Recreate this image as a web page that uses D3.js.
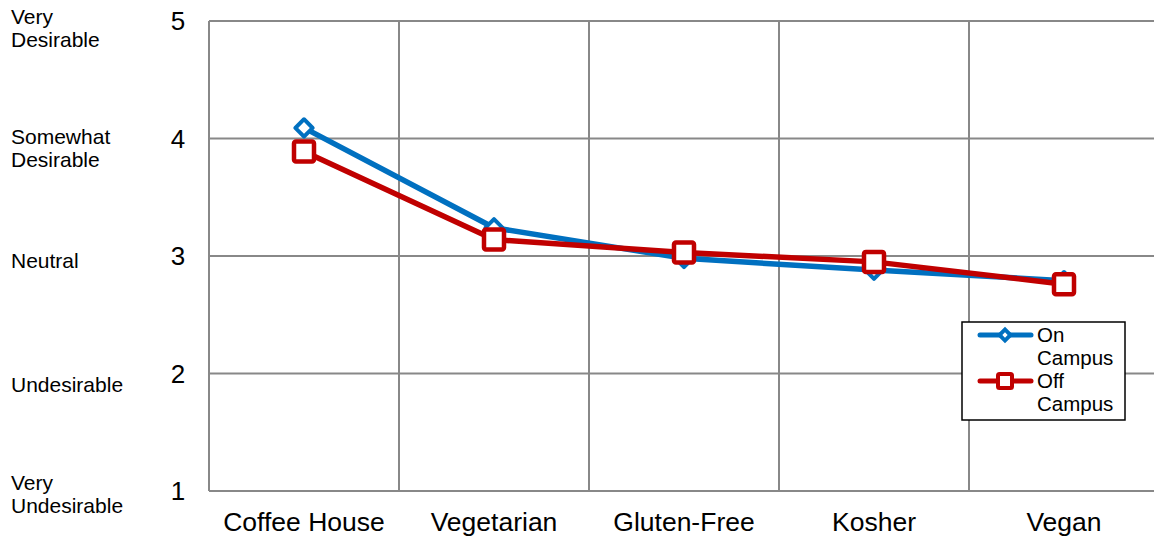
<!DOCTYPE html>
<html><head><meta charset="utf-8">
<script src="https://cdn.jsdelivr.net/npm/d3@7/dist/d3.min.js"></script>
<style>body{margin:0;background:#fff}svg{display:block}text{font-family:"Liberation Sans",Arial,sans-serif;fill:#000}</style>
</head><body><svg id="c" width="1154" height="539"></svg>
<script>
const categories = ["Coffee House","Vegetarian","Gluten-Free","Kosher","Vegan"];
const onCampus = [4.09,3.24,2.98,2.88,2.79];
const offCampus = [3.89,3.14,3.03,2.95,2.76];
const yTicks = [1,2,3,4,5];
const yLabels = [["Very","Undesirable"],["Undesirable"],["Neutral"],["Somewhat","Desirable"],["Very","Desirable"]];
const seriesNames = [["On","Campus"],["Off","Campus"]];

const svg = d3.select("#c");
const L=209, T=21, B=491, bw=190;
const x = d3.scaleBand().domain(categories).range([L, L+bw*categories.length]);
const y = d3.scaleLinear().domain([1,5]).range([B,T]);
const grid="#888888";

svg.append("g").selectAll("line").data(yTicks).join("line")
  .attr("x1",L).attr("x2",1154).attr("y1",d=>y(d)).attr("y2",d=>y(d))
  .attr("stroke",grid).attr("stroke-width",2);
svg.append("g").selectAll("line").data(categories).join("line")
  .attr("x1",d=>x(d)).attr("x2",d=>x(d)).attr("y1",T).attr("y2",B)
  .attr("stroke",grid).attr("stroke-width",2);

svg.append("g").selectAll("text").data(yTicks).join("text")
  .attr("x",178).attr("y",d=>y(d)+9).attr("text-anchor","middle")
  .style("font-size","26px").text(d=>d);
const lblOff = [3, 11, 5, 10, 7.5];
const yl = svg.append("g").selectAll("text").data(yTicks).join("text")
  .attr("x",11).style("font-size","21px")
  .attr("y",(d,i)=> y(d) + lblOff[i] + 7 - (yLabels[i].length-1)*11.5);
yl.each(function(d,i){
  const t=d3.select(this);
  yLabels[i].forEach((s,j)=>t.append("tspan").attr("x",11).attr("dy",j?23:0).text(s));
});
svg.append("g").selectAll("text").data(categories).join("text")
  .attr("x",d=>x(d)+bw/2).attr("y",531).attr("text-anchor","middle")
  .style("font-size","26.5px").text(d=>d);

const line = d3.line().x((d,i)=>x(categories[i])+bw/2).y(d=>y(d));
const blue="#0070C0", red="#C00000";
svg.append("path").datum(onCampus).attr("d",line).attr("fill","none").attr("stroke",blue).attr("stroke-width",5.5).attr("stroke-linejoin","round");
svg.append("path").datum(offCampus).attr("d",line).attr("fill","none").attr("stroke",red).attr("stroke-width",5.5).attr("stroke-linejoin","round");

const diamond = d3.symbol().type(d3.symbolSquare).size(150);
svg.append("g").selectAll("path").data(onCampus).join("path")
  .attr("d",diamond()).attr("transform",(d,i)=>`translate(${x(categories[i])+bw/2},${y(d)}) rotate(45)`)
  .attr("fill","#fff").attr("stroke",blue).attr("stroke-width",4).attr("stroke-linejoin","round");
svg.append("g").selectAll("rect").data(offCampus).join("rect")
  .attr("x",(d,i)=>x(categories[i])+bw/2-10).attr("y",d=>y(d)-10).attr("width",20).attr("height",20).attr("rx",2)
  .attr("fill","#fff").attr("stroke",red).attr("stroke-width",4.5);

const lg = svg.append("g");
lg.append("rect").attr("x",962).attr("y",322).attr("width",163).attr("height",98).attr("fill","#fff").attr("stroke","#000").attr("stroke-width",1.5);
const colors=[blue,red];
seriesNames.forEach((nm,k)=>{
  const cy = 335 + k*46;
  lg.append("line").attr("x1",980).attr("x2",1031).attr("y1",cy).attr("y2",cy).attr("stroke",colors[k]).attr("stroke-width",5).attr("stroke-linecap","round");
  if(k===0){
    lg.append("path").attr("d",d3.symbol().type(d3.symbolSquare).size(60)()).attr("transform",`translate(1005,${cy}) rotate(45)`).attr("fill","#fff").attr("stroke",blue).attr("stroke-width",4);
  } else {
    lg.append("rect").attr("x",998).attr("y",cy-7).attr("width",14).attr("height",14).attr("rx",1.5).attr("fill","#fff").attr("stroke",red).attr("stroke-width",4);
  }
  const t=lg.append("text").attr("x",1037).attr("y",cy+7).style("font-size","20.5px");
  nm.forEach((s,j)=>t.append("tspan").attr("x",1037).attr("dy",j?23:0).text(s));
});
</script></body></html>
